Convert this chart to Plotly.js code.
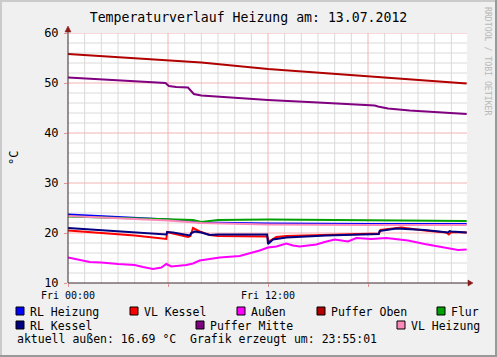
<!DOCTYPE html>
<html><head><meta charset="utf-8">
<script src="https://cdn.plot.ly/plotly-3.0.1.min.js"></script>
<style>html,body{margin:0;padding:0;background:#F0F0F0;}#chart{width:497px;height:357px;}</style>
</head><body><div id="chart"></div>
<script>
// ---- data (hours since Fri 00:00, °C) ----
const seriesNames = ["RL Heizung","VL Kessel","Außen","Puffer Oben","Flur","RL Kessel","Puffer Mitte","VL Heizung"];

const tRLHeizung = [0,3,6,8,12,18,23.92];
const vRLHeizung = [23.7,23.2,22.7,22.1,21.9,21.8,21.8];

const tVLKessel = [0,2,4,5.9,5.95,6.3,7.2,7.35,7.5,7.9,8.5,9,11.95,12.05,12.5,13.1,15.5,18.65,18.75,20.0,21.4,22.7,22.85,23.0,23.92];
const vVLKessel = [20.5,20.0,19.5,18.8,20.2,19.9,19.2,19.4,21.0,20.3,19.6,19.4,19.3,18.3,19.2,19.4,19.6,19.9,20.6,21.1,20.5,20.1,19.7,20.2,20.1];

const tAussen = [0,0.7,1.3,2,2.5,3,3.5,4,4.5,5.1,5.6,5.9,6.2,6.6,7.1,7.5,7.9,8.5,9.1,10.3,10.9,11.5,12,12.5,13.1,13.5,13.9,14.5,14.9,15.4,16,16.4,16.8,17.3,18.2,19.1,19.6,20.4,21.4,22.2,23.0,23.4,23.92];
const vAussen = [15.1,14.6,14.2,14.1,13.9,13.8,13.7,13.6,13.2,12.8,13.1,13.8,13.3,13.4,13.6,13.9,14.5,14.8,15.1,15.4,15.9,16.5,17.1,17.3,17.9,17.5,17.3,17.5,17.7,18.2,18.7,18.5,18.3,19.0,18.8,19.0,18.8,18.5,17.8,17.3,16.8,16.6,16.7];

const tPufferOben = [0,3,6,8,12,15,18,21,23.92];
const vPufferOben = [55.8,55.2,54.6,54.1,52.8,52.1,51.4,50.6,49.9];

const tFlur = [0,3,6,7.5,8.0,8.6,9,12,18,20,23.92];
const vFlur = [23.3,23.0,22.7,22.6,22.2,22.4,22.6,22.7,22.6,22.5,22.4];

const tRLKessel = [0,2,4,5.9,5.95,6.3,7.3,7.4,7.6,8.0,8.5,9,11.95,12.0,12.3,13.1,15.5,18.65,18.7,19.7,21.4,22.8,22.9,23.0,23.92];
const vRLKessel = [21.0,20.6,20.2,19.7,20.2,20.1,19.5,20.0,20.3,20.1,19.6,19.7,19.7,17.8,18.7,19.1,19.5,19.8,20.4,20.9,20.6,20.1,20.4,20.3,20.1];

const tPufferMitte = [0,3,5.85,6.05,6.5,7.2,7.35,7.55,8,10,12,15,18.4,18.6,19.2,20.5,22,23.92];
const vPufferMitte = [51.1,50.6,50.0,49.4,49.2,49.1,48.6,47.8,47.5,47.0,46.6,46.1,45.5,45.3,44.9,44.5,44.2,43.8];

const tVLHeizung = [0,3,6,8,12,18,23.92];
const vVLHeizung = [23.4,23.0,22.5,22.0,21.7,21.6,21.6];

const xTickVals = [0,6,12,18];
const xTickText = ["Fri 00:00","","Fri 12:00",""];
const yTickVals = [10,20,30,40,50,60];
const titleText = "Temperaturverlauf Heizung am: 13.07.2012";
const footerText = "aktuell außen: 16.69 °C\u00a0 Grafik erzeugt um: 23:55:01";

// ---- styling ----
const colors = ["#0000FF","#FF0000","#FF00FF","#B00000","#00A000","#000080","#800080","#FF88BB"];
const xs = [tRLHeizung,tVLKessel,tAussen,tPufferOben,tFlur,tRLKessel,tPufferMitte,tVLHeizung];
const ys = [vRLHeizung,vVLKessel,vAussen,vPufferOben,vFlur,vRLKessel,vPufferMitte,vVLHeizung];

const W=497,H=357,L=68,R=30,T=33,B=74;
const pw=W-L-R, ph=H-T-B;
const px = x => (x-L)/pw;
const py = y => (H-B-y)/ph;
const mono = "DejaVu Sans Mono, monospace";
const xRange=[0,23.94], yRange=[10,60];
const majorGrid = "#F2B2B2", minorGrid = "#DADADA";

// grid drawn as background line traces (hourly / every 2 °C; major every 6 h / 10 °C)
function gridTrace(gx, gy, color) {
  return {x:gx, y:gy, type:"scatter", mode:"lines", line:{color:color, width:1}, hoverinfo:"skip", showlegend:false, connectgaps:false};
}
const mnx=[], mny=[], mjx=[], mjy=[];
for (let h=1; h<24; h++) {
  const tx = h%6===0 ? mjx : mnx, ty = h%6===0 ? mjy : mny;
  tx.push(h,h,null); ty.push(yRange[0],yRange[1],null);
}
for (let v=12; v<=60; v+=2) {
  const tx = v%10===0 ? mjx : mnx, ty = v%10===0 ? mjy : mny;
  tx.push(xRange[0],xRange[1],null); ty.push(v,v,null);
}
const traces = [gridTrace(mnx,mny,minorGrid), gridTrace(mjx,mjy,majorGrid)];

seriesNames.forEach((n,i)=>traces.push({
  x: xs[i], y: ys[i], name: n, type:"scatter", mode:"lines",
  line:{color:colors[i], width:2}, hoverinfo:"skip", showlegend:false
}));

const shapes = [];
const annotations = [];

// frame (3D shade)
shapes.push({type:"rect", xref:"paper", yref:"paper", x0:px(0), x1:px(2), y0:py(H), y1:py(0), fillcolor:"#CBCBCB", line:{width:0}, layer:"below"});
shapes.push({type:"rect", xref:"paper", yref:"paper", x0:px(0), x1:px(W), y0:py(2), y1:py(0), fillcolor:"#CBCBCB", line:{width:0}, layer:"below"});
shapes.push({type:"rect", xref:"paper", yref:"paper", x0:px(W-2), x1:px(W), y0:py(H), y1:py(0), fillcolor:"#999999", line:{width:0}, layer:"below"});
shapes.push({type:"rect", xref:"paper", yref:"paper", x0:px(0), x1:px(W), y0:py(H), y1:py(H-2), fillcolor:"#999999", line:{width:0}, layer:"below"});

// legend slots (pixel positions: square left x, row top y)
const legendSlots = [[16,307],[130,307],[237,307],[317,307],[437,307],[16,321],[196,321],[397,321]];
seriesNames.forEach((n,i)=>{
  const [sx,sy] = legendSlots[i];
  shapes.push({type:"rect", xref:"paper", yref:"paper", x0:px(sx), x1:px(sx+8), y0:py(sy+8), y1:py(sy),
    fillcolor:colors[i], line:{color:"#000000", width:1}});
  annotations.push({xref:"paper", yref:"paper", x:px(sx+12), y:py(sy+4.5), xanchor:"left", yanchor:"middle",
    text:n, showarrow:false, font:{family:mono, size:11.5, color:"#000"}});
});
annotations.push({xref:"paper", yref:"paper", x:px(15), y:py(339), xanchor:"left", yanchor:"middle",
  text:footerText, showarrow:false, font:{family:mono, size:11.5, color:"#000"}});
annotations.push({xref:"paper", yref:"paper", x:px(14), y:py(158), xanchor:"center", yanchor:"middle",
  text:"°C", textangle:-90, showarrow:false, font:{family:mono, size:12, color:"#000"}});
annotations.push({xref:"paper", yref:"paper", x:px(488), y:py(61), xanchor:"center", yanchor:"middle",
  text:"RRDTOOL / TOBI OETIKER", textangle:90, showarrow:false, font:{family:mono, size:8.2, color:"#B8B8B8"}});

// axes with arrows
const axisCol = "#3A2A2A", arrowCol = "#8B1A1A";
shapes.push({type:"line", xref:"paper", yref:"paper", x0:0, x1:px(470), y0:0, y1:0, line:{color:axisCol, width:1}});
shapes.push({type:"line", xref:"paper", yref:"paper", x0:0, x1:0, y0:0, y1:py(29), line:{color:axisCol, width:1}});
shapes.push({type:"path", xref:"paper", yref:"paper",
  path:`M ${px(468)} ${py(280)} L ${px(473)} ${py(283)} L ${px(468)} ${py(286)} Z`, fillcolor:arrowCol, line:{color:arrowCol, width:0.5}});
shapes.push({type:"path", xref:"paper", yref:"paper",
  path:`M ${px(65)} ${py(32)} L ${px(68)} ${py(26)} L ${px(71)} ${py(32)} Z`, fillcolor:arrowCol, line:{color:arrowCol, width:0.5}});

const layout = {
  width:W, height:H,
  margin:{l:L, r:R, t:T, b:B, pad:0},
  paper_bgcolor:"#F0F0F0", plot_bgcolor:"#FFFFFF",
  showlegend:false,
  title:{text:titleText, x:0.5, xref:"container", xanchor:"center", y:1-17/H, yref:"container", yanchor:"middle",
    font:{family:mono, size:13.2, color:"#000"}},
  xaxis:{range:xRange, tickmode:"array", tickvals:xTickVals, ticktext:xTickText,
    showgrid:false, ticks:"outside", ticklen:3, tickcolor:"#E89090",
    tickfont:{family:mono, size:10, color:"#000"},
    zeroline:false, showline:false, fixedrange:true},
  yaxis:{range:yRange, tickmode:"array", tickvals:yTickVals,
    showgrid:false, ticks:"outside", ticklen:3, tickcolor:"#E89090",
    tickfont:{family:mono, size:12, color:"#000"}, ticklabelstandoff:3,
    zeroline:false, showline:false, fixedrange:true},
  shapes:shapes, annotations:annotations
};

Plotly.newPlot("chart", traces, layout, {displayModeBar:false, staticPlot:true});
</script></body></html>
